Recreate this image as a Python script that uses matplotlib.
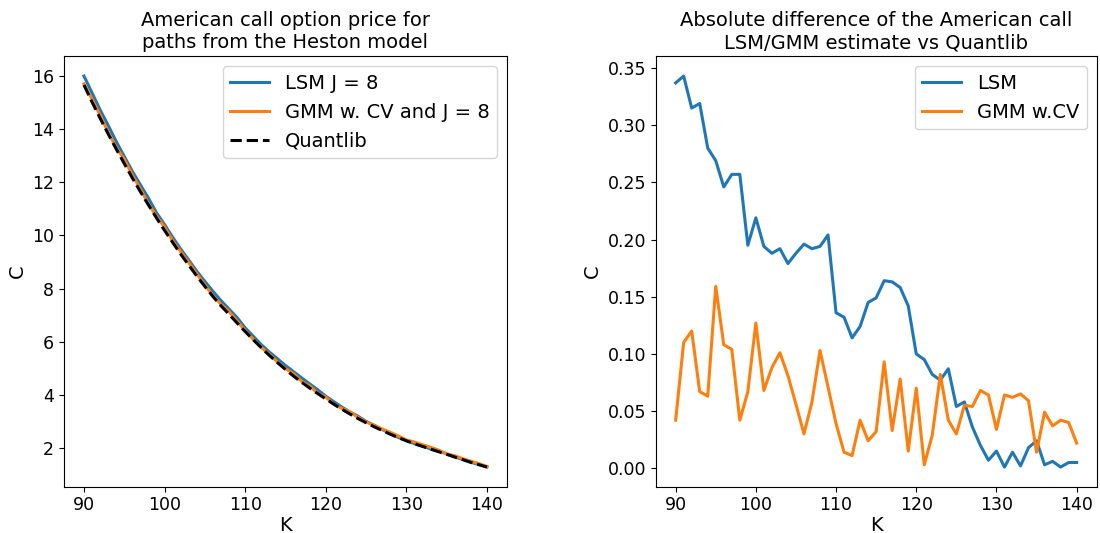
import numpy as np
import matplotlib
matplotlib.use("Agg")
import matplotlib.pyplot as plt

# strike grid
K = np.arange(90, 141)

# Quantlib reference price
quantlib = np.array([
    15.67, 15.03, 14.42, 13.83, 13.26, 12.71, 12.17, 11.65, 11.15, 10.66,
    10.19,  9.74,  9.30,  8.88,  8.47,  8.08,  7.70,  7.35,  7.03,  6.70,
     6.38,  6.07,  5.77,  5.48,  5.21,  4.95,  4.70,  4.47,  4.25,  4.04,
     3.84,  3.64,  3.45,  3.27,  3.10,  2.94,  2.79,  2.65,  2.51,  2.38,
     2.26,  2.15,  2.05,  1.95,  1.85,  1.75,  1.65,  1.55,  1.45,  1.36,
     1.27])

# absolute differences vs Quantlib
lsm_diff = np.array([
    0.337, 0.343, 0.315, 0.319, 0.280, 0.269, 0.246, 0.257, 0.257, 0.195,
    0.219, 0.194, 0.188, 0.192, 0.179, 0.188, 0.196, 0.192, 0.194, 0.204,
    0.136, 0.132, 0.114, 0.124, 0.145, 0.149, 0.164, 0.163, 0.158, 0.142,
    0.100, 0.095, 0.082, 0.077, 0.087, 0.054, 0.058, 0.036, 0.020, 0.007,
    0.015, 0.001, 0.014, 0.002, 0.018, 0.024, 0.003, 0.006, 0.001, 0.005,
    0.005])

gmm_diff = np.array([
    0.042, 0.110, 0.120, 0.067, 0.063, 0.159, 0.108, 0.104, 0.042, 0.067,
    0.127, 0.068, 0.088, 0.101, 0.081, 0.056, 0.030, 0.058, 0.103, 0.071,
    0.039, 0.014, 0.011, 0.042, 0.024, 0.032, 0.093, 0.033, 0.078, 0.015,
    0.070, 0.003, 0.029, 0.082, 0.042, 0.030, 0.055, 0.054, 0.068, 0.064,
    0.034, 0.064, 0.062, 0.065, 0.059, 0.014, 0.049, 0.037, 0.042, 0.040,
    0.022])

# estimates sit just above the reference price
lsm_price = quantlib + lsm_diff
gmm_price = quantlib + gmm_diff

fig = plt.figure(figsize=(11, 5.33), dpi=100)
ax1 = fig.add_axes([0.058, 0.087, 0.403, 0.807])
ax2 = fig.add_axes([0.596, 0.087, 0.401, 0.807])

# ── left: prices ──
ax1.plot(K, lsm_price, color="#1f77b4", lw=2.2, label="LSM J = 8")
ax1.plot(K, gmm_price, color="#ff7f0e", lw=2.2, label="GMM w. CV and J = 8")
ax1.plot(K, quantlib, "k--", lw=2.2, label="Quantlib")
ax1.set_title("American call option price for\npaths from the Heston model", fontsize=14)
ax1.set_xlabel("K", fontsize=14, labelpad=1)
ax1.set_ylabel("C", fontsize=14)
ax1.set_yticks(np.arange(2, 17, 2))
ax1.set_xticks(np.arange(90, 141, 10))
ax1.tick_params(labelsize=12.5)
ax1.legend(loc="upper right", fontsize=14)

# ── right: abs differences ──
ax2.plot(K, lsm_diff, color="#1f77b4", lw=2.2, label="LSM")
ax2.plot(K, gmm_diff, color="#ff7f0e", lw=2.2, label="GMM w.CV")
ax2.set_title("Absolute difference of the American call\nLSM/GMM estimate vs Quantlib", fontsize=14)
ax2.set_xlabel("K", fontsize=14, labelpad=1)
ax2.set_ylabel("C", fontsize=14)
ax2.set_yticks(np.arange(0, 0.36, 0.05))
ax2.set_xticks(np.arange(90, 141, 10))
ax2.tick_params(labelsize=12.5)
ax2.legend(loc="upper right", fontsize=14)

fig.savefig("out.png", dpi=100)
